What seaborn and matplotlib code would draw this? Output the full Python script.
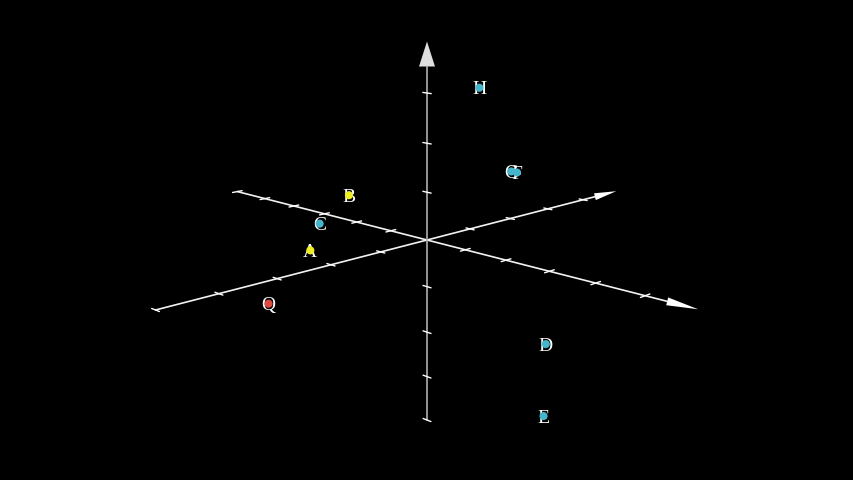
import matplotlib.pyplot as plt
import seaborn as sns
import numpy as np
import pandas as pd

# points in 3D (x runs to lower right, y to upper right, z up)
labels = ['A', 'B', 'C', 'Q', 'H', 'G', 'F', 'D', 'E']
xs = [-1.0, -0.85, -1.0, 1.0, 0.2, 0.0, 0.15, 2.0, 2.0]
ys = [-1.7, -1.0, -1.5, -3.8, 1.0, 2.0, 2.0, 1.0, 1.0]
zs = [0.0, 1.0, 0.5, 0.0, 3.0, 1.05, 1.05, -2.05, -3.65]
groups = ['plane', 'plane', 'space', 'origin', 'space', 'space', 'space', 'space', 'space']
colors = {'plane': '#eeee22', 'space': '#45b5cc', 'origin': '#dd4a40'}

# axis ranges
x_range = (-6, 6)
y_range = (-5, 5)
z_range = (-4, 4)

# simple perspective camera, result in pixel coords
ORIGIN = (427, 240)


def proj(x, y, z):
    x, y, z = np.asarray(x, float), np.asarray(y, float), np.asarray(z, float)
    w = 1 - 0.0295 * x + 0.0357 * y - 0.0122 * z
    u = (37.2 * x + 44.6 * y) / w
    v = (9.5 * x - 11.5 * y - 47.2 * z) / w
    return ORIGIN[0] + u, ORIGIN[1] + v


df = pd.DataFrame({'label': labels, 'x': xs, 'y': ys, 'z': zs, 'group': groups})
df['sx'], df['sy'] = proj(df['x'], df['y'], df['z'])

sns.set_style('dark')
fig = plt.figure(figsize=(8.54, 4.8), dpi=100)
fig.patch.set_facecolor('black')
ax = fig.add_axes([0, 0, 1, 1])
ax.set_facecolor('black')


def axis_3d(idx, lo, hi, color, head_color, head_len, head_w, tick_dir):
    a = np.zeros(3)
    b = np.zeros(3)
    a[idx], b[idx] = lo, hi
    p0 = proj(*a)
    p1 = proj(*b)
    d = np.array(p1) - np.array(p0)
    d = d / np.hypot(*d)
    n = np.array([-d[1], d[0]])
    base = np.array(p1) - head_len * d
    ax.plot([p0[0], base[0]], [p0[1], base[1]], color=color, lw=1.2, zorder=1)
    tri = np.array([p1, base + head_w * n, base - head_w * n])
    ax.fill(tri[:, 0], tri[:, 1], color=head_color, lw=0, zorder=1)
    # ticks
    for t in range(int(lo), int(hi)):
        if t == 0:
            continue
        c = np.zeros(3)
        c[idx] = t
        e = np.array(tick_dir) * 0.11
        q0 = proj(*(c - e))
        q1 = proj(*(c + e))
        ax.plot([q0[0], q1[0]], [q0[1], q1[1]], color='white', lw=1.0, zorder=1)


axis_3d(0, *x_range, '#f2f2f2', 'white', 32, 4, (0, 1, 0))
axis_3d(1, *y_range, '#f2f2f2', 'white', 22, 3.5, (1, 0, 0))
axis_3d(2, *z_range, '#b0b0b0', '#dedede', 25, 8, (1, 0, 0))

for _, r in df.iterrows():
    ax.text(r['sx'], r['sy'], r['label'], color='white', fontsize=14,
            family=['Liberation Serif', 'DejaVu Serif'],
            ha='center', va='center_baseline', zorder=2)

sns.scatterplot(data=df, x='sx', y='sy', hue='group', palette=colors,
                s=34, linewidth=0, legend=False, ax=ax, zorder=3)
ax.set_xlim(0, 854)
ax.set_ylim(480, 0)
ax.axis('off')

fig.savefig('out.png', dpi=100, facecolor='black')
